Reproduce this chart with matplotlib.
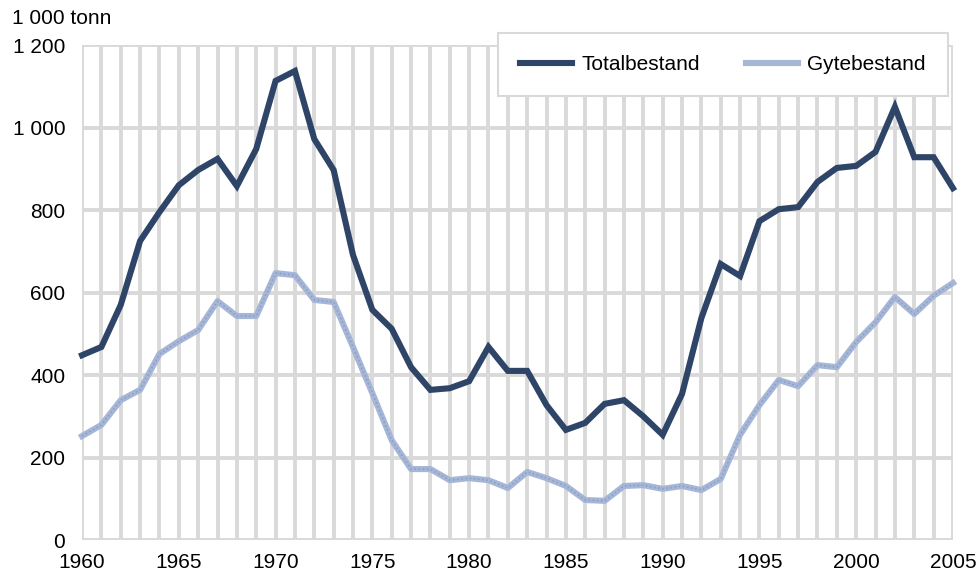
import matplotlib
matplotlib.use('Agg')
import matplotlib.pyplot as plt
from matplotlib.ticker import FuncFormatter

plt.rcParams['font.family'] = ['Liberation Sans', 'DejaVu Sans']

years = list(range(1960, 2006))

# Totalbestand (1 000 tonn)
total = [448, 468, 570, 725, 795, 860, 897, 924, 858, 948,
         1113, 1137, 972, 897, 691, 558, 512, 419, 364, 368,
         385, 468, 410, 410, 327, 267, 284, 330, 339, 300,
         255, 354, 538, 669, 640, 773, 802, 807, 868, 902,
         907, 941, 1050, 928, 928, 853]

# Gytebestand (1 000 tonn)
gyte = [252, 279, 339, 364, 451, 482, 509, 579, 543, 543,
        647, 642, 582, 577, 468, 356, 242, 172, 172, 145,
        150, 145, 126, 165, 150, 131, 97, 95, 131, 133,
        124, 131, 121, 148, 255, 327, 388, 373, 424, 419,
        480, 528, 589, 548, 592, 623]

yticks = [0, 200, 400, 600, 800, 1000, 1200]
xlabel_years = [1960, 1965, 1970, 1975, 1980, 1985, 1990, 1995, 2000, 2005]

grid_col = '#d9d9d9'
total_col = '#2f4568'
gyte_col = '#a6b6d6'

fig = plt.figure(figsize=(9.79, 5.74), dpi=100)
ax = fig.add_axes([0.0838, 0.0592, 0.8896, 0.8624])

ax.plot(years, total, color=total_col, lw=4.4, solid_joinstyle='miter',
        clip_on=False, zorder=3, label='Totalbestand')
ax.plot(years, gyte, color=gyte_col, lw=4.4, clip_on=False, zorder=3,
        label='Gytebestand')
# fine dotted texture on the light line
ax.plot(years, gyte, color='#8c9fc6', lw=1.2, ls=(0, (1, 1.5)),
        clip_on=False, zorder=3.5)

ax.set_xlim(1960, 2005)
ax.set_ylim(0, 1200)
ax.set_xticks(years)
ax.set_xticklabels([str(y) if y in xlabel_years else '' for y in years])
ax.set_yticks(yticks)
ax.yaxis.set_major_formatter(FuncFormatter(lambda v, p: f'{int(v):,}'.replace(',', ' ')))
ax.tick_params(length=0, labelsize=15, colors='black')
ax.tick_params(axis='y', pad=12)
ax.tick_params(axis='x', pad=9)
ax.grid(True, color=grid_col, lw=2.8, zorder=0)
ax.set_axisbelow(True)
for s in ax.spines.values():
    s.set_visible(False)

fig.text(0.012, 0.968, '1 000 tonn', fontsize=15, va='center', ha='left')

leg = ax.legend(loc='upper right', bbox_to_anchor=(0.994, 1.024), ncol=2,
                fontsize=15, frameon=True, fancybox=False, framealpha=1,
                edgecolor=grid_col, borderpad=1.05, handlelength=2.5,
                handletextpad=0.45, columnspacing=2.2, borderaxespad=0)
leg.get_frame().set_linewidth(1.5)
leg.set_zorder(5)

fig.savefig('out.png', dpi=100)
